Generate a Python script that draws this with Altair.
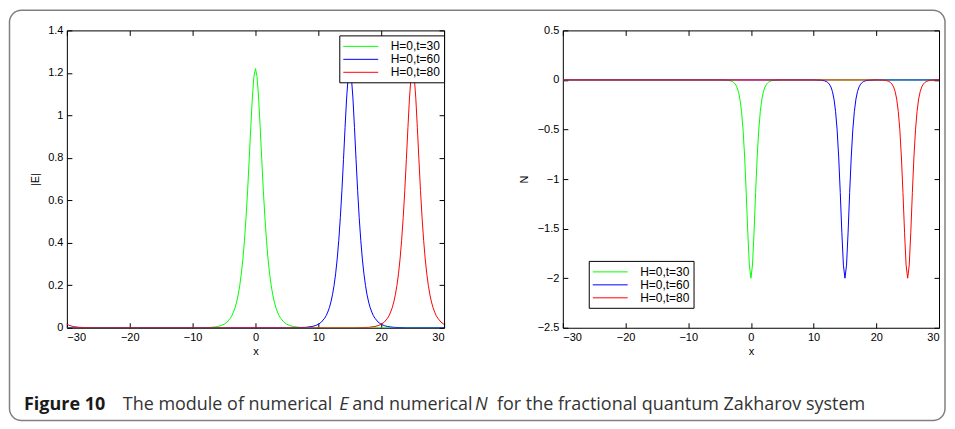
import altair as alt
import pandas as pd

# ---- data ----
labels = ["H=0,t=30", "H=0,t=60", "H=0,t=80"]
colors = ["#00ff00", "#0000ff", "#ff0000"]
centers = [0, 15, 25]          # pulse positions for the three times
period = 60                    # periodic domain [-30, 30]

# half-profile of the pulses (distance from centre -> value)
offsets = [0, 0.25, 0.5, 0.75, 1.0, 1.25, 1.5, 1.75, 2.0, 2.25, 2.5, 2.75,
           3.0, 3.25, 3.5, 3.75, 4.0, 4.5, 5.0, 5.5, 6.0, 6.5, 7.0, 8.0, 9.0, 10.0]
e_half = [1.22, 1.183, 1.082, 0.942, 0.791, 0.646, 0.519, 0.412, 0.324, 0.254,
          0.199, 0.155, 0.121, 0.094, 0.074, 0.057, 0.045, 0.027, 0.016, 0.010,
          0.006, 0.004, 0.002, 0.001, 0.0, 0.0]
n_half = [-2.0, -1.868, -1.536, -1.136, -0.778, -0.503, -0.316, -0.193, -0.116,
          -0.070, -0.042, -0.025, -0.015, -0.009, -0.005, -0.003, -0.002, -0.001,
          0.0, 0.0, 0.0, 0.0, 0.0, 0.0, 0.0, 0.0]

x_ticks = [-30, -20, -10, 0, 10, 20, 30]
e_ticks = [0, 0.2, 0.4, 0.6, 0.8, 1, 1.2, 1.4]
n_ticks = [-2.5, -2, -1.5, -1, -0.5, 0, 0.5]

caption_bold = "Figure 10"
caption_parts = [("The module of numerical", "normal"), ("E", "italic"),
                 ("and numerical", "normal"), ("N", "italic"),
                 ("for the fractional quantum Zakharov system", "normal")]
caption_x = [56, 273, 286, 409, 431]   # left edges, relative to left plot

FONT = "Liberation Sans"
CAP_SIZE = 18
W1, W2, H = 378, 377, 298


def build(half):
    prof_x = [-o for o in reversed(offsets[1:])] + offsets
    prof_y = list(reversed(half[1:])) + half
    rows = []
    for lab, c in zip(labels, centers):
        pts = {}
        for shift in (c - period, c, c + period):
            for o, v in zip(prof_x, prof_y):
                xx = shift + o
                if -30 <= xx <= 30:
                    pts[xx] = pts.get(xx, 0.0) + v
        pts.setdefault(-30, 0.0)
        pts.setdefault(30, 0.0)
        for xx in sorted(pts):
            rows.append({"x": xx, "y": pts[xx], "series": lab})
    return pd.DataFrame(rows)


df_e = build(e_half)
df_n = build(n_half)


def panel(df, width, ydom, yticks, ytitle, ytitle_x, leg_x, leg_y, extra=()):
    xs = alt.Scale(domain=[-30, 30], nice=False, zero=False)
    ys = alt.Scale(domain=ydom, nice=False, zero=False)
    ax_bottom = alt.Axis(orient="bottom", values=x_ticks, grid=False, domain=False,
                         tickSize=5, offset=-5, tickColor="black", format="d",
                         labelPadding=4, title="x", titleX=width / 2, titleY=29,
                         titleBaseline="middle", titleAlign="center")
    ax_left = alt.Axis(orient="left", values=yticks, grid=False, domain=False,
                       tickSize=5, offset=-5, tickColor="black", format="~g",
                       labelPadding=4, title=ytitle, titleX=ytitle_x, titleY=H / 2,
                       titleBaseline="middle", titleAlign="center", titleAngle=270)
    ax_top = alt.Axis(orient="top", values=x_ticks, grid=False, domain=False,
                      tickSize=5, offset=-5, tickColor="black", labels=False, title=None)
    ax_right = alt.Axis(orient="right", values=yticks, grid=False, domain=False,
                        tickSize=5, offset=-5, tickColor="black", labels=False, title=None)

    guides = alt.Chart(df).mark_line(strokeOpacity=0).encode(
        x=alt.X("x:Q", scale=xs, axis=ax_top),
        y=alt.Y("y:Q", scale=ys, axis=ax_right),
    )
    lines = alt.Chart(df).mark_line(strokeWidth=1, clip=True).encode(
        x=alt.X("x:Q", scale=xs, axis=ax_bottom),
        y=alt.Y("y:Q", scale=ys, axis=ax_left),
        color=alt.Color(
            "series:N",
            scale=alt.Scale(domain=labels, range=colors),
            sort=labels,
            legend=alt.Legend(
                orient="none", legendX=leg_x, legendY=leg_y, title=None,
                fillColor="white", strokeColor="black", padding=4,
                symbolType="M-2.692,0H2.692", symbolSize=169, symbolStrokeWidth=1,
                labelOffset=23, symbolOffset=10.5, rowPadding=0,
                labelFontSize=12, labelFont=FONT, labelColor="black",
            ),
        ),
    )
    return alt.layer(*extra, guides, lines).resolve_axis(x="independent", y="independent")


one = pd.DataFrame({"a": [0]})
frame = alt.Chart(one).mark_rect(
    fillOpacity=0, stroke="#808080", strokeWidth=1.5, cornerRadius=12
).encode(x=alt.value(-57.5), x2=alt.value(880), y=alt.value(-20.25), y2=alt.value(391))

cap_layers = [frame]
cap_layers.append(
    alt.Chart(pd.DataFrame({"t": [caption_bold]})).mark_text(
        align="left", baseline="alphabetic", font="Open Sans", fontSize=CAP_SIZE,
        fontWeight="bold", color="#1a1a1a"
    ).encode(x=alt.value(-43), y=alt.value(380), text="t:N")
)
for (txt, style), cx in zip(caption_parts, caption_x):
    cap_layers.append(
        alt.Chart(pd.DataFrame({"t": [txt]})).mark_text(
            align="left", baseline="alphabetic", font="Open Sans", fontSize=CAP_SIZE,
            fontStyle=style, color="#333333"
        ).encode(x=alt.value(cx), y=alt.value(380), text="t:N")
    )

left = panel(df_e, W1, [0, 1.4], e_ticks, "|E|", -36.75, 273, 5, extra=cap_layers)
left = left.properties(width=W1, height=H)
right = panel(df_n, W2, [-2.5, 0.5], n_ticks, "N", -43, 26, 231)
right = right.properties(width=W2, height=H)

chart = alt.hconcat(left, right, spacing=119, bounds="flush").resolve_scale(
    color="independent"
).properties(padding=0, background="white").configure_view(
    stroke="black", strokeWidth=1
).configure_axis(
    labelFont=FONT, labelFontSize=11, labelColor="black",
    titleFont=FONT, titleFontSize=11, titleColor="black", titleFontWeight="normal",
)

chart.save("out.html", embed_options={"renderer": "svg", "actions": False})
